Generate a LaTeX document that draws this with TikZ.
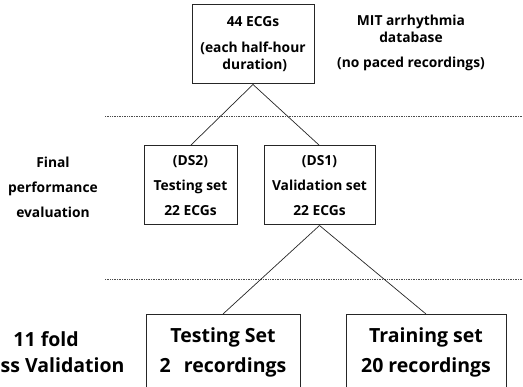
\documentclass[tikz,border=0pt]{standalone}
\usepackage{fontspec}
\setmainfont{Open Sans}
\usepackage{tikz}
\usetikzlibrary{positioning}
\tikzstyle{sepline}=[draw=black!70,line width=0.7pt,dash pattern=on 0.8pt off 0.9pt]
\tikzstyle{link}=[draw=black!85,line width=0.7pt]
\newcommand{\smallfont}[1]{\bfseries\fontsize{13.8}{#1}\selectfont}
\newcommand{\bigfont}{\bfseries\fontsize{19.5}{30}\selectfont}
\newcommand{\setnode}{\node[rectangle,draw=black!85,line width=1pt,inner sep=0pt,align=center,font=\smallfont{25}]}
\newcommand{\foldnode}{\node[rectangle,draw=black!85,line width=1pt,inner xsep=0pt,inner ysep=13pt,anchor=north,align=center,font=\bigfont]}
\newcommand{\txtnode}{\node[align=center]}

\begin{document}
\begin{tikzpicture}[x=1pt,y=-1pt]
      \clip (0,0) rectangle (523,387);
      \useasboundingbox (0,0) rectangle (523,387);
      \setnode[minimum width=122pt,minimum height=79pt,font=\smallfont{17}] (all) at (253,44.5) {44 ECGs\\[9pt] (each half-hour\\ \ duration)}; %
      \txtnode[font=\smallfont{17}] (mit) at (411,43) {MIT arrhythmia\\ database\\[8pt] (no paced recordings)}; %
      \setnode[minimum width=93pt,minimum height=79pt] (ds2) at (190.5,185.5) {(DS2)\\ Testing set\\ 22 ECGs};
      \setnode[minimum width=111pt,minimum height=79pt] (ds1) at (319.5,185.5) {(DS1)\\ Validation set\\ 22 ECGs};
      \txtnode[font=\smallfont{25}] (final) at (53,187) {Final\\ performance\\ evaluation}; %
      \foldnode[minimum width=154pt] (cvtest) at (223,314) {Testing Set\\ 2\hspace{8pt} recordings};
      \foldnode[minimum width=160pt] (cvtrain) at (426,314) {Training set\\ 20 recordings};
      \txtnode[font=\bfseries\fontsize{19.5}{26}\selectfont,anchor=east] (fold) at (128,352) {11 fold\\ Cross Validation}; %
      \coordinate (sepa) at (105,116);
      \coordinate (sepaend) at (523,116);
      \coordinate (sepb) at (105,279);
      \coordinate (sepbend) at (523,279);
      \draw[sepline] (sepa) -- (sepaend);
      \draw[sepline] (sepb) -- (sepbend);
      \draw[link] (all.south) -- (ds2.north);
      \draw[link] (all.south) -- (ds1.north);
      \draw[link] (ds1.south) -- (cvtest.north);
      \draw[link] (ds1.south) -- (cvtrain.north);
    \end{tikzpicture}
\end{document}
